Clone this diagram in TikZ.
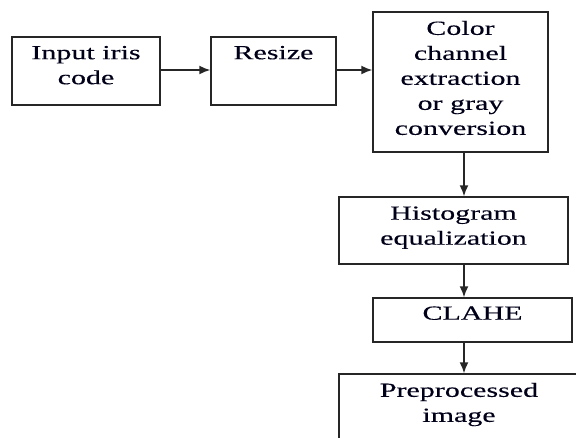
\documentclass[tikz,border=0pt]{standalone}
\usepackage{fontspec}
\setmainfont[FakeStretch=1.5,FakeBold=0.3]{Liberation Serif}
\usetikzlibrary{arrows.meta,calc}
\begin{document}
\begin{tikzpicture}[x=1pt,y=-1pt,
  box/.style={draw=black!85,line width=1.5pt,inner sep=0pt,rectangle},
  txt/.style={anchor=north,inner sep=0pt,align=center,font=\fontsize{20pt}{25pt}\selectfont,text=black!90!blue},
  arr/.style={draw=black!85,line width=1.5pt,-{Latex[length=11pt,width=9pt]}}]
\useasboundingbox (0,0) rectangle (576,437);
\clip (0,0) rectangle (576,437);
\node[box,minimum width=148pt,minimum height=68pt] (in) at (86,71) {};
\node[box,minimum width=125pt,minimum height=68pt] (rs) at (273.5,71) {};
\node[box,minimum width=175pt,minimum height=140pt] (col) at (460.5,82) {};
\node[box,minimum width=229pt,minimum height=67pt] (hist) at (453.5,230.5) {};
\node[box,minimum width=199pt,minimum height=44pt] (cl) at (472.5,320) {};
\node[box,minimum width=240pt,minimum height=90pt] (pre) at (459,419) {};
\node[txt] (tin) at ($(in.north)+(0,9.5)$) {Input iris\\code};
\node[txt] (trs) at ($(rs.north)+(0,9.5)$) {Resize};
\node[txt] (tcol) at ($(col.north)+(0,9.5)$) {Color\\channel\\extraction\\or gray\\conversion};
\node[txt] (thist) at ($(hist.north)+(0,10)$) {Histogram\\equalization};
\node[txt] (tcl) at ($(cl.north)+(0,9)$) {CLAHE};
\node[txt] (tpre) at ($(pre.north)+(0,9.5)$) {Preprocessed\\image};
\coordinate (ay) at (0,70);
\coordinate (cx) at (464,0);
\draw[arr] (in.east |- ay) -- (rs.west |- ay);
\draw[arr] (rs.east |- ay) -- (col.west |- ay);
\draw[arr] (col.south -| cx) -- (hist.north -| cx);
\draw[arr] (hist.south -| cx) -- (cl.north -| cx);
\draw[arr] (cl.south -| cx) -- (pre.north -| cx);
\end{tikzpicture}
\end{document}
